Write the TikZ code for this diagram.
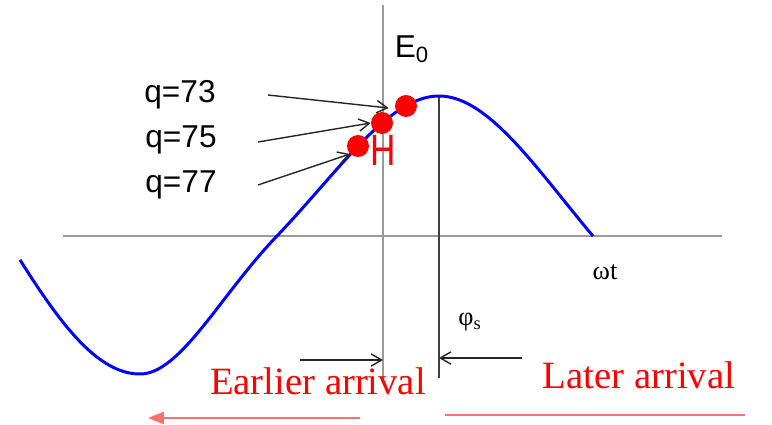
\documentclass[tikz,border=0pt]{standalone}
\usepackage{fontspec}
\setmainfont{Liberation Serif}
\newfontfamily\labelfont{Liberation Sans}
\usetikzlibrary{arrows.meta, positioning, calc}
\definecolor{WaveBlue}{HTML}{0000FF}
\definecolor{MarkRed}{HTML}{FF0000}
\definecolor{AxisGray}{HTML}{9A9A9A}
\definecolor{PeakGray}{HTML}{404040}
\definecolor{ArrivalPink}{HTML}{FF7070}
\tikzset{
    % axes and guide lines
    axis line/.style={
        draw=AxisGray,
        line width=1.1pt
    },
    peak line/.style={
        draw=PeakGray,
        line width=0.8pt
    },
    % the RF wave
    wave/.style={
        draw=WaveBlue,
        line width=1.7pt,
        line join=round
    },
    % particles on the wave
    particle/.style={
        circle,
        fill=MarkRed,
        inner sep=0pt,
        minimum size=12.5pt
    },
    % text
    q label/.style={
        font=\labelfont\fontsize{18}{21}\selectfont,
        inner sep=0pt
    },
    axis label/.style={
        font=\fontsize{15}{18}\selectfont,
        inner sep=0pt
    },
    arrival label/.style={
        font=\fontsize{22}{26}\selectfont,
        text=MarkRed,
        inner sep=0pt
    },
    % connectors
    pointer/.style={
        -{Straight Barb[length=6pt, width=7pt]},
        line width=0.8pt,
        black!85
    },
    arrival line/.style={
        draw=ArrivalPink,
        line width=0.8pt
    }
}

\begin{document}
\begin{tikzpicture}[x=0.02cm, y=-0.02cm]
        \useasboundingbox (0,0) rectangle (772,424);

        % Axes
        \coordinate (axl) at (63,236);
        \coordinate (axr) at (722,236);
        \coordinate (vtop) at (383,5);
        \coordinate (vbot) at (383,378);
        \coordinate (ptop) at (439,96);
        \coordinate (pbot) at (439,378);
        \draw[axis line] (axl) -- (axr);
        \draw[axis line] (vtop) -- (vbot);
        \draw[peak line] (ptop) -- (pbot);

        % Wave (phase slightly warped on each quarter)
        \draw[wave]
            plot[domain=20:140, samples=40] (\x, {236-138*sin(-90-0.667*(140-\x))})
            -- plot[domain=140:277, samples=50] (\x, {236-138*sin(0.43*(\x-277)-0.001657*(\x-277)*(\x-277))})
            -- plot[domain=277:439, samples=60] (\x, {236-140*sin(0.43*(\x-277)+0.000775*(\x-277)*(\x-277))})
            -- plot[domain=439:593, samples=60] (\x, {236-140*sin(90+0.681*(\x-439)-0.000628*(\x-439)*(\x-439))});

        % Particles
        \node[particle] (d73) at (406,106) {};
        \node[particle] (d75) at (382,123) {};
        \node[particle] (d77) at (358,146) {};
        \node[font=\labelfont\fontsize{20}{24}\selectfont, text=MarkRed, inner sep=0pt, yscale=1.25] (h) at (383,150) {H};

        % Labels
        \node[q label] (e0) at (412,49) {E\textsubscript{0}};
        \node[q label] (q73) at (180,95) {q=73};
        \node[q label] (q75) at (181,140) {q=75};
        \node[q label] (q77) at (181,185) {q=77};
        \node[axis label] (wt) at (605,272) {ωt};
        \node[axis label] (phis) at (470,322) {φ\textsubscript{s}};

        % Pointers to the particles
        \coordinate (a73) at (268,95);
        \coordinate (a75) at (258,142);
        \coordinate (a77) at (258,185);
        \draw[pointer] (a73) -- ($(d73.west)+(-6,2)$);
        \draw[pointer] (a75) -- (d75.west);
        \draw[pointer] (a77) -- (d77.south west);

        % Arrival
        \coordinate (ea) at (300,360);
        \coordinate (la) at (522,358);
        \draw[pointer] (ea) -- (ea -| vbot);
        \draw[pointer] (la) -- (la -| pbot);
        \node[arrival label] (early) at (318,381) {Earlier arrival};
        \node[arrival label] (late) at (639,375) {Later arrival};

        \coordinate (elr) at (360,418);
        \coordinate (ell) at (148,418);
        \coordinate (lll) at (445,415);
        \coordinate (llr) at (745,415);
        \draw[arrival line, -{Triangle[length=9pt, width=7pt]}] (elr) -- (ell);
        \draw[arrival line] (lll) -- (llr);
    \end{tikzpicture}
\end{document}
